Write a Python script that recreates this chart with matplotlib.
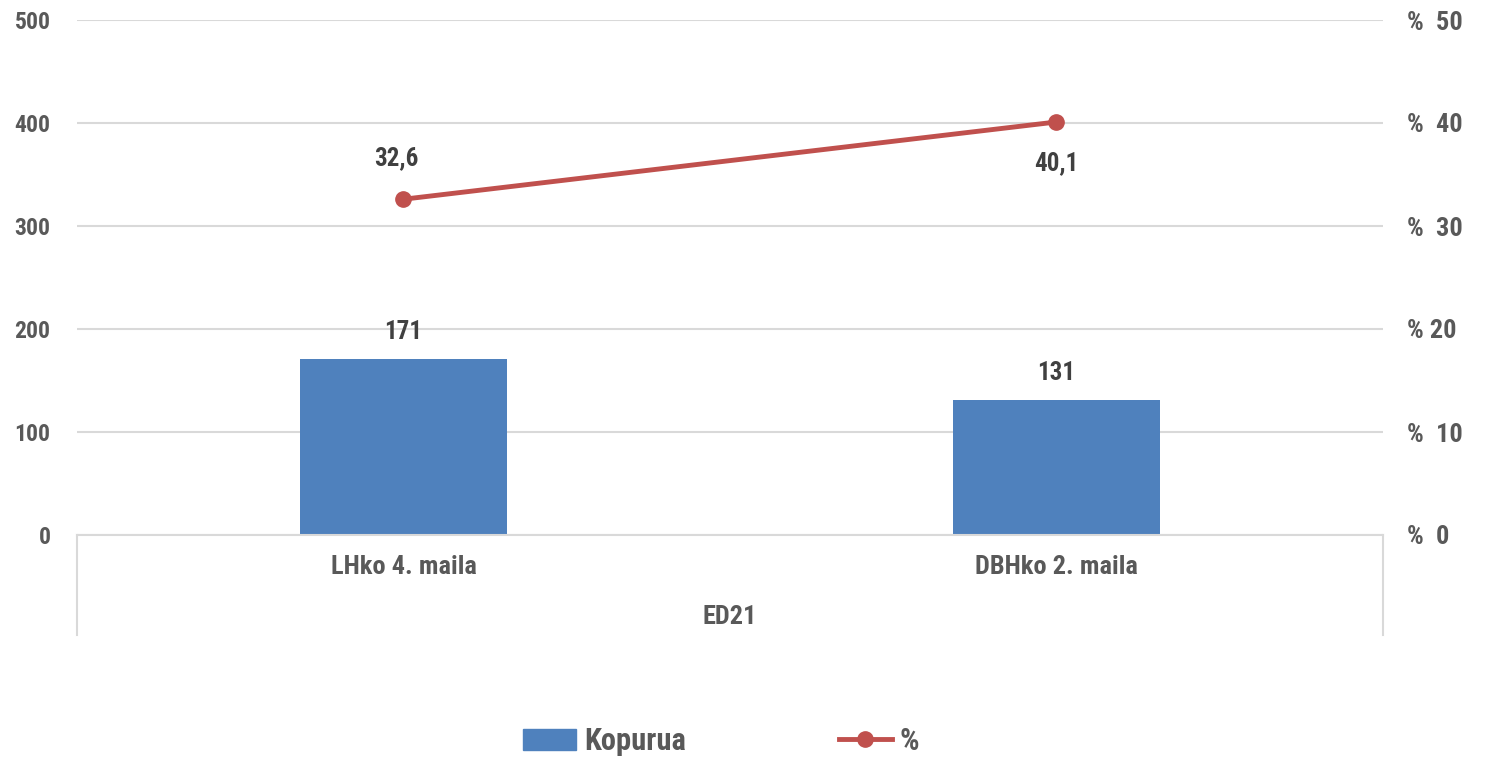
import numpy as np
import matplotlib.pyplot as plt
from matplotlib import font_manager
from matplotlib.lines import Line2D
from matplotlib.patches import Patch

categories = ["LHko 4. maila", "DBHko 2. maila"]
group = "ED21"
counts = [171, 131]
percents = [32.6, 40.1]
pct_labels = ["32,6", "40,1"]
left_ticks = [0, 100, 200, 300, 400, 500]
right_ticks = [0, 10, 20, 30, 40, 50]
right_labels = ["%  0", "%  10", "% 20", "%  30", "%  40", "%  50"]

names = {f.name for f in font_manager.fontManager.ttflist}
FONT = "Liberation Sans"
for cand in ["Roboto Condensed", "Liberation Sans Narrow", "Arial Narrow", "Open Sans Condensed"]:
    if cand in names:
        FONT = cand
        break
plt.rcParams["font.family"] = [FONT, "DejaVu Sans"]
plt.rcParams["font.weight"] = "bold"
NARROW = FONT != "Liberation Sans"
FS = 17 if NARROW else 15.5

BAR = "#4f81bd"
LINE = "#c0504d"
GRID = "#d9d9d9"
TXT = "#595959"
LBL = "#404040"

fig = plt.figure(figsize=(14.87, 7.58), dpi=100)
ax = fig.add_axes([77 / 1487, 1 - 535 / 758, (1383 - 77) / 1487, (535 - 20) / 758])
ax2 = ax.twinx()

x = np.arange(len(categories))
ax.bar(x, counts, width=0.317, color=BAR, zorder=2)
ax.set_xlim(-0.5, 1.5)
ax.set_ylim(0, 500)
ax.set_yticks(left_ticks)
ax.yaxis.grid(True, color=GRID, linewidth=1.5, zorder=0)
ax.set_axisbelow(True)
ax.tick_params(axis="y", length=0, labelsize=FS, labelcolor=TXT, pad=19)
ax.set_xticks([])
for s in ["top", "right", "left"]:
    ax.spines[s].set_visible(False)
ax.spines["bottom"].set_color(GRID)
ax.spines["bottom"].set_linewidth(1.5)

for xi, v in zip(x, counts):
    ax.annotate(str(v), (xi, v), xytext=(0, 11), textcoords="offset points",
                ha="center", va="bottom", fontsize=FS + 1, color=LBL)

ax2.plot(x, percents, color=LINE, linewidth=3.5, marker="o", markersize=11, zorder=3)
ax2.set_ylim(0, 50)
ax2.set_yticks(right_ticks)
ax2.set_yticklabels(right_labels)
ax2.tick_params(axis="y", length=0, labelsize=FS + 2, labelcolor=TXT, pad=17)
for s in ax2.spines.values():
    s.set_visible(False)

ax2.annotate(pct_labels[0], (x[0], percents[0]), xytext=(-5, 21), textcoords="offset points",
             ha="center", va="bottom", fontsize=FS + 1, color=LBL)
ax2.annotate(pct_labels[1], (x[1], percents[1]), xytext=(0, -21), textcoords="offset points",
             ha="center", va="top", fontsize=FS + 1, color=LBL)

# category axis labels and group separators
for xi, c in zip(x, categories):
    ax.text(xi, -32 / 515 * 500, c, ha="center", va="center", fontsize=FS + 2, color=TXT)
ax.text(0.5, -82 / 515 * 500, group, ha="center", va="center", fontsize=FS + 2, color=TXT)
for xe in [-0.5, 1.5]:
    ax.plot([xe, xe], [0, -100 / 515 * 500], color=GRID, linewidth=1.5, clip_on=False)

# legend
handles = [Patch(color=BAR), Line2D([0], [0], color=LINE, linewidth=3.5, marker="o", markersize=11)]
fig.legend(handles, ["Kopurua", "%"], loc="center", bbox_to_anchor=(721 / 1487, 1 - 741 / 758),
           ncol=2, frameon=False, fontsize=FS + 5, labelcolor=TXT, columnspacing=5.0,
           handlelength=1.75, handletextpad=0.25)

fig.savefig("out.png", dpi=100)
